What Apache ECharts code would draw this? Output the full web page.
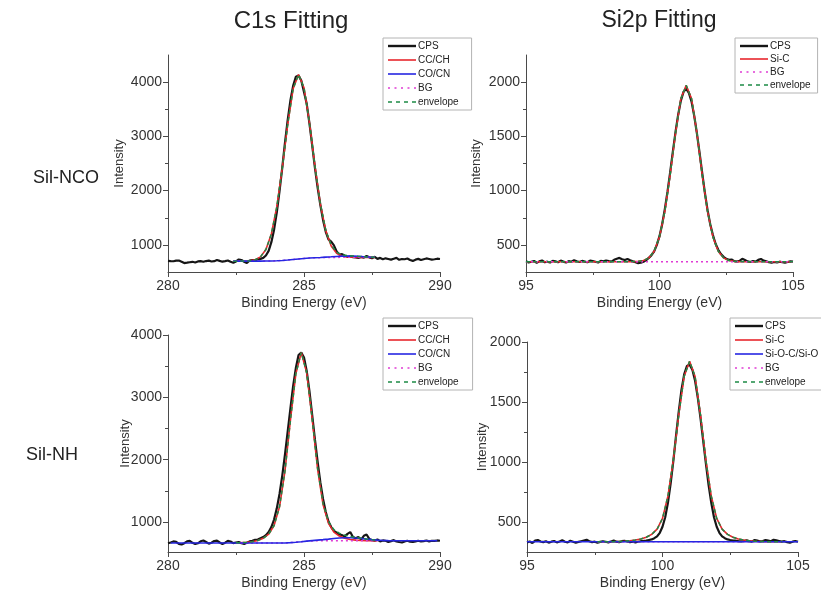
<!DOCTYPE html>
<html>
<head>
<meta charset="utf-8">
<title>XPS C1s / Si2p fitting</title>
<script src="https://cdn.jsdelivr.net/npm/echarts@6/dist/echarts.min.js"></script>
<style>
  html, body { margin: 0; padding: 0; background: #fff; }
  #chart { width: 821px; height: 593px; }
</style>
</head>
<body>
<div id="chart"></div>
<script>
// ---------------- data ----------------
// Sampling grids (binding energy, eV)
function grid(start, step, n) {
  return Array.from({ length: n }, (_, i) => +(start + i * step).toFixed(2));
}

// --- C1s, Sil-NCO ---
const c1sNcoCps = [
  705,700,698,710,712,690,665,672,680,688,
  676,695,700,688,702,710,694,700,722,705,
  690,700,712,688,670,695,730,720,690,665,
  712,720,718,735,742,760,805,890,1050,1280,
  1600,1990,2420,2880,3300,3660,3930,4100,4120,4030,
  3820,3600,3240,2840,2430,2060,1740,1460,1240,1100,
  1060,990,880,820,830,800,780,790,775,770,
  760,778,765,795,770,755,780,742,760,735,
  752,740,728,745,760,725,740,735,748,720,
  705,728,742,720,735,750,740,728,735,745,
  740
];
const c1sNcoFitStart = 282.4;
const c1sNcoCCCH = [700,700,702,707,725,779,915,1200,1699,2412,3218,3877,4140,3897,3255,2462,1757,1263,981,847,795,777,772,770,770,770,770];
const c1sNcoCOCN = [700,700,700,700,700,701,702,704,707,712,720,730,740,750,758,764,768,774,780,787,793,795,793,788,782,777,773];
const c1sNcoBG   = [700,700,700,700,700,701,702,704,707,712,720,730,740,750,757,762,765,767,768,769,770,770,770,770,770,770,770];
const c1sNcoEnv  = [700,700,702,707,725,779,915,1200,1699,2412,3218,3877,4140,3897,3256,2464,1760,1270,993,865,818,802,795,788,782,777,773];

// --- Si2p, Sil-NCO ---
const si2pNcoCps = [
  350,338,345,352,335,348,356,340,345,338,
  352,348,340,355,346,338,350,344,358,348,
  342,352,346,340,355,350,344,338,352,348,
  356,350,345,362,372,380,368,360,370,358,
  348,340,332,335,345,360,380,405,440,500,
  580,690,830,990,1170,1360,1540,1700,1830,1910,
  1940,1900,1820,1690,1530,1350,1160,980,820,690,
  590,510,455,415,390,372,362,365,350,346,
  352,372,360,348,342,350,345,362,370,355,
  348,340,336,342,338,345,340,336,342,348,
  345
];
const si2pNcoSiC = [
  345,345,345,345,345,345,345,345,345,345,
  345,345,345,345,345,345,345,345,345,345,
  346,348,356,380,442,574,808,1148,1533,1848,
  1970,1848,1533,1148,808,574,442,380,356,348,
  346,345,345,345,345,345,345,345,345,345,345
];
const si2pNcoEnv = si2pNcoSiC.slice();
const si2pNcoBG = [345,345,345,345,345,345,345,345,345,345,345,345,345,345,345,345,345,345,345,345,345];

// --- C1s, Sil-NH ---
const c1sNhCps = [
  660,672,690,682,650,640,662,690,700,668,
  648,660,692,705,680,655,668,696,702,672,
  650,670,698,688,662,672,680,660,650,668,
  690,700,715,720,740,760,790,840,920,1040,
  1220,1450,1740,2080,2450,2820,3180,3470,3680,3720,
  3640,3420,3100,2720,2330,1970,1640,1370,1160,1010,
  920,860,830,800,790,770,810,840,760,740,
  760,720,780,800,730,710,700,720,690,705,
  700,680,695,710,690,680,672,690,700,685,
  680,690,700,688,695,705,690,700,698,705,
  700
];
const c1sNhFitStart = 282.5;
const c1sNhCCCH = [667,670,675,685,705,740,805,945,1245,1815,2630,3377,3720,3392,2657,1850,1280,980,840,775,740,720,710,705,702,700,700];
const c1sNhBG   = [665,665,665,665,665,665,665,665,665,665,670,677,685,692,697,700,700,700,700,700,700,700,700,700,700,700,700];
const c1sNhEnv  = [667,670,675,685,705,740,805,945,1245,1815,2630,3377,3720,3394,2662,1860,1298,1007,877,820,789,769,755,742,729,718,710];
const c1sNhCOCN = [
  665,665,665,665,665,665,665,665,665,665,665,665,665,665,665,665,665,665,665,665,665,665,
  670,677,685,694,702,710,718,727,737,745,749,749,745,737,727,718,710,
  705,702,700,700,700,700,700,700,700,700,700
];

// --- Si2p, Sil-NH ---
const si2pNhCps = [
  330,338,325,345,350,338,332,340,328,336,
  342,330,338,348,335,330,344,336,328,334,
  340,346,352,340,332,336,328,334,340,335,
  330,338,345,336,332,340,344,338,332,336,
  330,335,340,342,345,350,355,365,380,410,
  460,540,660,820,1010,1220,1420,1600,1730,1800,
  1810,1770,1680,1540,1370,1180,990,810,660,540,
  460,410,380,365,355,350,346,344,340,338,
  342,348,340,336,350,345,338,342,350,345,
  340,352,348,342,336,340,332,328,336,342,
  335
];
const si2pNhFitStart = 97.6;
const si2pNhSiC = [335,335,335,336,338,340,344,350,359,373,397,440,530,715,1015,1395,1715,1840,1715,1395,1015,715,530,440,397,373,359,350,344,340,338,336,335,335,335];
const si2pNhEnv = si2pNhSiC.slice();
const si2pNhBG  = [335,335,335,335,335,335,335,335,335,335,335,335,335,335,335,335,335,335,335,335,335,335,335,335,335,335,335,335,335,335,335,335,335,335,335];
const si2pNhSiOC = [335,335,335,335,335,335,335,335,335,335,335,335,335,335,335,335,335,335,335,335,335];

// Axis labels
const c1sMajor = [1000, 2000, 3000, 4000];
const c1sMinor = [1500, 2500, 3500];
const si2pMajor = [500, 1000, 1500, 2000];
const si2pMinor = [750, 1250, 1750];

// ---------------- drawing ----------------
const FONT = "'Liberation Sans', Arial, sans-serif";
const INK = '#333';
const AXIS = '#4a4a4a';

const STYLES = {
  cps:  { color: '#161616', width: 2.2, type: 'solid' },
  fit:  { color: '#e8262c', width: 1.6, type: 'solid' },
  comp: { color: '#2626e2', width: 1.6, type: 'solid' },
  bg:   { color: '#e03cd4', width: 1.5, type: [2, 3] },
  env:  { color: '#1d8a46', width: 1.5, type: [4, 3] }
};

// legend swatches: plain strokes, dashed or dotted like the lines they stand for
const ICONS = {
  cps:  'path://M0 0H28V2.4H0Z',
  fit:  'path://M0 0H28V1.6H0Z',
  comp: 'path://M0 0H28V1.6H0Z',
  bg:   'path://M0 0h2v1.6h-2z M6.5 0h2v1.6h-2z M13 0h2v1.6h-2z M19.5 0h2v1.6h-2z M26 0h2v1.6h-2z',
  env:  'path://M0 0h4v1.6h-4z M8 0h4v1.6h-4z M16 0h4v1.6h-4z M24 0h4v1.6h-4z'
};

function pairs(xs, ys) { return ys.map((y, i) => [xs[i], y]); }
function cpsE(start, vals) { return grid(start, 0.1, vals.length); }

const panels = [
  {
    rect: { left: 168, top: 55, width: 272, height: 217 },
    x: [280, 290], y: [500, 4500], major: c1sMajor, minor: c1sMinor, nameGap: 42,
    legend: { left: 383, top: 38, gap: 4, padRight: 13 },
    lines: [
      ['CPS', 'cps', cpsE(280, c1sNcoCps), c1sNcoCps],
      ['CC/CH', 'fit', grid(c1sNcoFitStart, 0.2, c1sNcoCCCH.length), c1sNcoCCCH],
      ['CO/CN', 'comp', grid(c1sNcoFitStart, 0.2, c1sNcoCOCN.length), c1sNcoCOCN],
      ['BG', 'bg', grid(c1sNcoFitStart, 0.2, c1sNcoBG.length), c1sNcoBG],
      ['envelope', 'env', grid(c1sNcoFitStart, 0.2, c1sNcoEnv.length), c1sNcoEnv]
    ],
    order: ['CPS', 'CC/CH', 'BG', 'CO/CN', 'envelope']
  },
  {
    rect: { left: 526, top: 55, width: 267, height: 217 },
    x: [95, 105], y: [250, 2250], major: si2pMajor, minor: si2pMinor, nameGap: 43,
    legend: { left: 735, top: 38, gap: 3, padRight: 7 },
    lines: [
      ['CPS', 'cps', cpsE(95, si2pNcoCps), si2pNcoCps],
      ['Si-C', 'fit', grid(95, 0.2, si2pNcoSiC.length), si2pNcoSiC],
      ['BG', 'bg', grid(95, 0.5, si2pNcoBG.length), si2pNcoBG],
      ['envelope', 'env', grid(95, 0.2, si2pNcoEnv.length), si2pNcoEnv]
    ],
    order: ['CPS', 'Si-C', 'BG', 'envelope']
  },
  {
    rect: { left: 168, top: 335, width: 272, height: 217 },
    x: [280, 290], y: [520, 4000], major: c1sMajor, minor: c1sMinor, nameGap: 36,
    legend: { left: 383, top: 318, gap: 4, padRight: 14 },
    lines: [
      ['CPS', 'cps', cpsE(280, c1sNhCps), c1sNhCps],
      ['CC/CH', 'fit', grid(c1sNhFitStart, 0.2, c1sNhCCCH.length), c1sNhCCCH],
      ['CO/CN', 'comp', grid(280.1, 0.2, c1sNhCOCN.length), c1sNhCOCN],
      ['BG', 'bg', grid(c1sNhFitStart, 0.2, c1sNhBG.length), c1sNhBG],
      ['envelope', 'env', grid(c1sNhFitStart, 0.2, c1sNhEnv.length), c1sNhEnv]
    ],
    order: ['CPS', 'CC/CH', 'BG', 'CO/CN', 'envelope']
  },
  {
    rect: { left: 527, top: 342, width: 271, height: 210 },
    x: [95, 105], y: [250, 2000], major: si2pMajor, minor: si2pMinor, nameGap: 38,
    legend: { left: 730, top: 318, gap: 4, padRight: 7 },
    lines: [
      ['CPS', 'cps', cpsE(95, si2pNhCps), si2pNhCps],
      ['Si-C', 'fit', grid(si2pNhFitStart, 0.2, si2pNhSiC.length), si2pNhSiC],
      ['Si-O-C/Si-O', 'comp', grid(95, 0.5, si2pNhSiOC.length), si2pNhSiOC],
      ['BG', 'bg', grid(si2pNhFitStart, 0.2, si2pNhBG.length), si2pNhBG],
      ['envelope', 'env', grid(si2pNhFitStart, 0.2, si2pNhEnv.length), si2pNhEnv]
    ],
    order: ['CPS', 'Si-C', 'BG', 'Si-O-C/Si-O', 'envelope']
  }
];

const option = {
  animation: false,
  backgroundColor: '#ffffff',
  grid: [], xAxis: [], yAxis: [], series: [], legend: [],
  graphic: [
    { type: 'text', x: 291, y: 21, style: { text: 'C1s Fitting', fontSize: 24, fontFamily: FONT, fill: '#222', align: 'center', verticalAlign: 'middle' } },
    { type: 'text', x: 659, y: 21, style: { text: 'Si2p Fitting', fontSize: 23, fontFamily: FONT, fill: '#222', align: 'center', verticalAlign: 'middle' } },
    { type: 'text', x: 66, y: 178, style: { text: 'Sil-NCO', fontSize: 18, fontFamily: FONT, fill: '#222', align: 'center', verticalAlign: 'middle' } },
    { type: 'text', x: 52, y: 455, style: { text: 'Sil-NH', fontSize: 18, fontFamily: FONT, fill: '#222', align: 'center', verticalAlign: 'middle' } }
  ]
};

panels.forEach((p, i) => {
  option.grid.push(Object.assign({ containLabel: false }, p.rect));
  option.xAxis.push({
    type: 'value', gridIndex: i, min: p.x[0], max: p.x[1], interval: 5,
    name: 'Binding Energy (eV)', nameLocation: 'middle', nameGap: 24, nameMoveOverlap: false,
    nameTextStyle: { fontSize: 14, fontFamily: FONT, color: INK },
    axisLine: { onZero: false, lineStyle: { color: AXIS, width: 1 } },
    axisTick: { length: 5, lineStyle: { color: AXIS } },
    minorTick: { show: true, splitNumber: 2, length: 3, lineStyle: { color: AXIS } },
    splitLine: { show: false },
    axisLabel: { fontSize: 14, fontFamily: FONT, color: INK, margin: 7, formatter: v => String(v) }
  });
  option.yAxis.push({
    type: 'value', gridIndex: i, min: p.y[0], max: p.y[1],
    name: 'Intensity', nameLocation: 'middle', nameGap: p.nameGap, nameMoveOverlap: false,
    nameTextStyle: { fontSize: 13, fontFamily: FONT, color: INK },
    axisLine: { show: true, onZero: false, lineStyle: { color: AXIS, width: 1 } },
    axisTick: { show: true, length: 5, customValues: p.major, lineStyle: { color: AXIS } },
    splitLine: { show: false },
    axisLabel: { fontSize: 14, fontFamily: FONT, color: INK, margin: 6, customValues: p.major, formatter: v => String(v) }
  });
  // drawing order: data first, then fit, background, minor component and envelope on top
  p.order.forEach(name => {
    const [, kind, xs, ys] = p.lines.find(l => l[0] === name);
    const s = STYLES[kind];
    option.series.push({
      type: 'line', name, xAxisIndex: i, yAxisIndex: i,
      data: pairs(xs, ys), symbol: 'none', silent: true, clip: true,
      itemStyle: { color: s.color },
      lineStyle: { color: s.color, width: s.width, type: s.type }
    });
  });
  option.legend.push({
    orient: 'vertical', left: p.legend.left, top: p.legend.top,
    data: p.lines.map(([name, kind]) => ({ name, icon: ICONS[kind] })),
    itemWidth: 28, itemHeight: 10, itemGap: p.legend.gap,
    padding: [3, p.legend.padRight, 3, 5], borderColor: '#b4b4b4', borderWidth: 1,
    selectedMode: false,
    textStyle: { fontSize: 10, fontFamily: FONT, color: '#222', padding: [0, 0, 0, -3] }
  });
});
// short minor ticks on the intensity axes, between the labelled values
panels.forEach((p, i) => {
  option.yAxis.push({
    type: 'value', gridIndex: i, min: p.y[0], max: p.y[1], position: 'left',
    axisLine: { show: false }, splitLine: { show: false },
    axisTick: { show: true, length: 3, customValues: p.minor, lineStyle: { color: AXIS } },
    axisLabel: { show: false }
  });
});

const chart = echarts.init(document.getElementById('chart'), null, { renderer: 'canvas' });
chart.setOption(option);
</script>
</body>
</html>
